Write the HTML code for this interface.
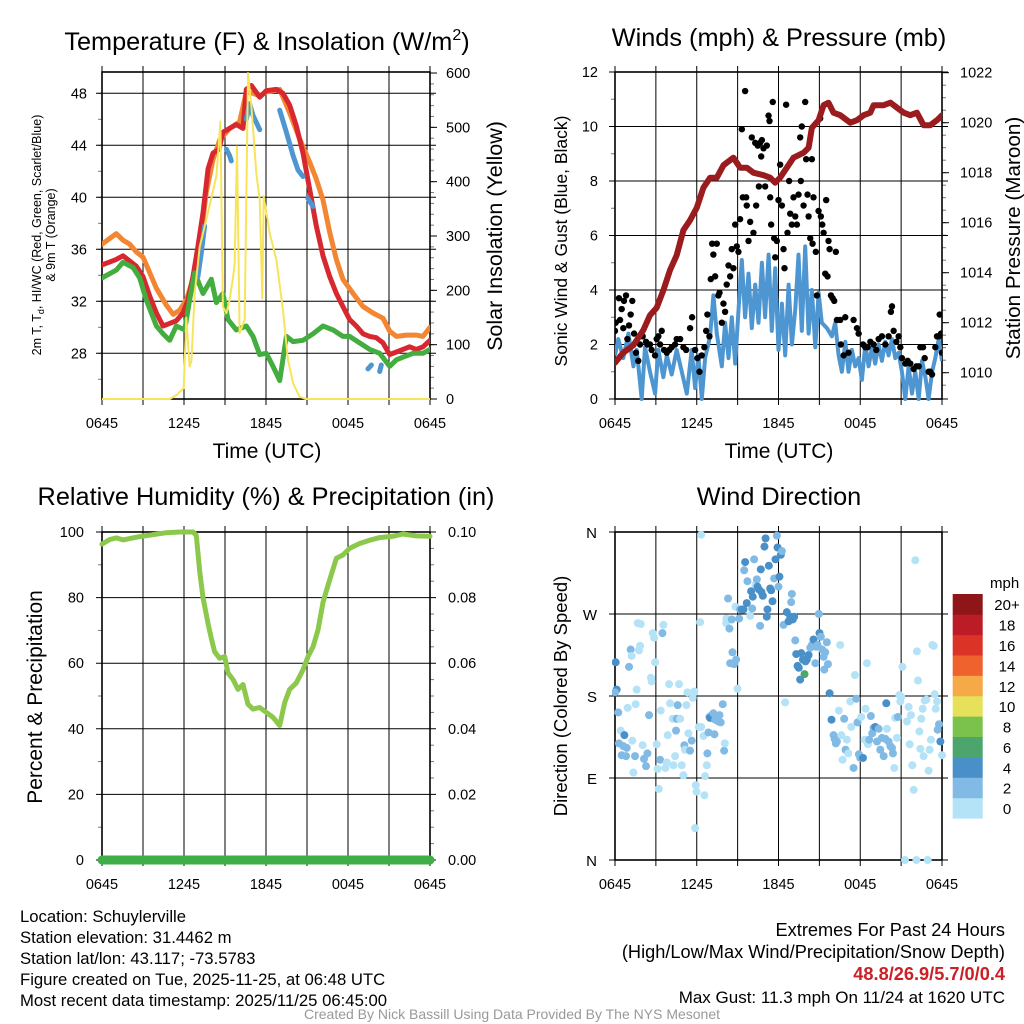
<!DOCTYPE html>
<html><head><meta charset="utf-8"><style>
html,body{margin:0;padding:0;background:#fff;}
svg{display:block;font-family:"Liberation Sans",sans-serif;}
</style></head><body>
<svg id="chart" width="1024" height="1024" viewBox="0 0 1024 1024" xmlns="http://www.w3.org/2000/svg">
<defs>
<clipPath id="c1"><rect x="102" y="70" width="328" height="331"/></clipPath>
<clipPath id="c2"><rect x="615" y="70" width="327" height="331"/></clipPath>
<clipPath id="c3"><rect x="96" y="528" width="340" height="338"/></clipPath>
<clipPath id="c4"><rect x="612" y="528" width="334" height="336"/></clipPath>
</defs>
<g id="g1"></g>
<g id="g2"></g>
<g id="g3"></g>
<g id="g4"></g>
<g font-size="25.3" text-anchor="middle" fill="#000">
<text x="267" y="50">Temperature (F) &amp; Insolation (W/m<tspan font-size="16" dy="-10">2</tspan><tspan dy="10">)</tspan></text>
<text x="779" y="46">Winds (mph) &amp; Pressure (mb)</text>
<text x="266" y="505">Relative Humidity (%) &amp; Precipitation (in)</text>
<text x="779" y="505">Wind Direction</text>
</g>
<g fill="#000" text-anchor="middle">
<text x="267" y="458" font-size="21">Time (UTC)</text>
<text x="779" y="458" font-size="21">Time (UTC)</text>
<text transform="translate(41,235) rotate(-90)" font-size="12.5">2m T, T<tspan font-size="9" dy="3">d</tspan><tspan dy="-3">, HI/WC (Red, Green, Scarlet/Blue)</tspan></text>
<text transform="translate(55,235) rotate(-90)" font-size="12.5">&amp; 9m T (Orange)</text>
<text transform="translate(502,236) rotate(-90)" font-size="21.5">Solar Insolation (Yellow)</text>
<text transform="translate(567,241) rotate(-90)" font-size="17.5">Sonic Wind &amp; Gust (Blue, Black)</text>
<text transform="translate(1020,238) rotate(-90)" font-size="20.7">Station Pressure (Maroon)</text>
<text transform="translate(42,697) rotate(-90)" font-size="21">Percent &amp; Precipitation</text>
<text transform="translate(567,696) rotate(-90)" font-size="18.5">Direction (Colored By Speed)</text>
</g>
<g font-size="16.7" fill="#000">
<text x="20" y="922">Location: Schuylerville</text>
<text x="20" y="943">Station elevation: 31.4462 m</text>
<text x="20" y="964">Station lat/lon: 43.117; -73.5783</text>
<text x="20" y="985">Figure created on Tue, 2025-11-25, at 06:48 UTC</text>
<text x="20" y="1006">Most recent data timestamp: 2025/11/25 06:45:00</text>
</g>
<g font-size="18.2" fill="#000" text-anchor="end">
<text x="1005" y="936">Extremes For Past 24 Hours</text>
<text x="1005" y="958">(High/Low/Max Wind/Precipitation/Snow Depth)</text>
<text x="1005" y="980" fill="#cc2027" font-weight="bold">48.8/26.9/5.7/0/0.4</text>
<text x="1005" y="1003" font-size="17">Max Gust: 11.3 mph On 11/24 at 1620 UTC</text>
</g>
<text x="512" y="1019" font-size="14" fill="#999" text-anchor="middle">Created By Nick Bassill Using Data Provided By The NYS Mesonet</text>
</svg>
<script>
// ===== Temperature panel data =====
const redHours=[0,1,1.54,2.02,2.51,3,3.49,3.98,4.46,4.95,5.44,5.93,6.29,6.66,7.02,7.39,7.76,8.12,8.56,8.85,9.34,9.83,10.32,10.56,10.93,11.54,12.02,12.76,13.24,13.73,14.22,14.71,15.2,15.68,16.17,16.66,17.15,17.63,18.12,18.61,19.1,19.59,20.07,20.56,21.05,21.54,22.02,22.51,23,23.49,24];
const redTemp=[34.8,35.2,35.5,35.1,34.7,33.9,32.4,31.1,30.1,30.3,30.5,31.1,32.1,33.9,36.2,38.8,42.2,43.4,43.7,45,45.3,45.6,45.3,48.3,48.6,47.7,48.2,48.3,48,47.1,45.5,43.4,40.6,37.8,35.5,33.9,32.6,31.6,30.6,30.1,29.5,29.3,29.2,28.8,27.9,28.1,28.3,28.5,28.3,28.5,29];
const orangeHours=[0,1.05,1.54,2.02,2.51,3,3.49,3.98,4.71,5.2,5.68,6.17,6.66,7.15,7.63,8.12,8.61,9.34,10.07,10.56,11.05,11.54,12.02,13,13.73,14.46,15.2,15.68,16.17,16.66,17.15,17.63,18.37,19.1,19.83,20.56,21.05,21.54,22.27,23,23.49,24];
const orangeTemp=[36.4,37.2,36.7,36.4,35.8,35.4,34.2,33,31.7,31,31.3,32.1,33.7,36.2,40.4,42.9,44.4,45.3,45.8,48.1,48,47.8,48.1,48.3,46.5,44.5,42.7,41.4,39.8,37.3,35.2,33.7,32.6,31.6,31.1,30.7,29.7,29.3,29.4,29.4,29.3,30];
const greenHours=[0,1.05,1.54,2.27,2.76,3.24,3.98,4.46,4.95,5.44,6.05,6.41,6.78,7.39,8,8.37,8.85,9.22,9.83,10.56,11.05,11.54,12.02,12.51,13,13.49,13.98,14.71,15.44,16.17,16.9,17.63,18.12,18.85,19.59,20.32,21.05,21.54,22.02,22.76,23.49,24];
const greenTemp=[33.8,34.4,35,34.6,33.8,32.1,30.1,29.5,29,30.1,29.8,32.1,34.2,32.6,33.7,31.9,32.6,30.6,29.8,30.1,29.3,27.9,28,27,25.9,29.3,28.9,29,29.5,30.1,29.8,29.3,29.3,28.8,28.3,28,27,27.5,27.7,28,28,28.3];
const hiHours=[7.02,7.27,7.51,null,9.1,9.34,9.46,null,10.56,10.8,11.05,11.54,null,13,13.49,13.98,14.34,14.71,null,15.07,15.44,null,19.46,19.71,null,20.32,20.44];
const hiTemp=[33.9,35.8,37.8,null,43.7,43.2,42.8,null,46,47.2,46.3,45.2,null,46.7,45,43.2,42.1,41.6,null,39.9,39.3,null,26.8,27.1,null,26.6,27.1];
const solarHours=[0,4.95,5.44,5.98,6.17,6.41,6.54,6.78,7.15,7.63,8.37,8.66,8.85,9.1,9.34,9.59,9.71,9.88,10.07,10.44,10.68,10.93,11.29,11.54,11.73,11.83,12.27,12.76,13.24,13.61,13.98,14.46,14.95,24];
const solarW=[0,0,7,20,150,60,70,195,280,330,410,511,170,158,182,225,250,465,121,146,600,539,416,367,185,373,305,256,164,72,29,4,0,0];
const tempTicks=[28,32,36,40,44,48];
const solarTicks=[0,100,200,300,400,500,600];
const timeLabels=["0645","1245","1845","0045","0645"];
const timeLabelHours=[0,6,12,18,24];
// ===== Winds panel data =====
const presHours=[0,0.61,1.35,2.08,2.57,3.06,3.55,4.04,4.53,5.02,5.51,6,6.49,6.98,7.47,7.96,8.69,9.18,9.67,10.16,10.9,11.39,11.76,12.12,12.61,13.1,13.84,14.21,14.45,14.94,15.31,15.67,16.04,16.53,17.27,17.76,18.25,18.74,18.98,19.72,20.21,20.7,21.19,21.67,22.16,22.65,23.14,23.63,24];
const presMb=[1010.4,1010.8,1011.1,1011.7,1012.3,1012.6,1013.3,1014.1,1014.7,1015.7,1016.1,1016.6,1017.4,1017.8,1017.8,1018.3,1018.6,1018.2,1018.2,1018,1017.9,1017.8,1017.6,1017.8,1018.2,1018.6,1018.8,1019,1019.8,1020.1,1020.7,1020.8,1020.4,1020.3,1020,1020.1,1020.3,1020.4,1020.7,1020.7,1020.8,1020.6,1020.4,1020.3,1020.4,1019.9,1019.9,1020.1,1020.3];
const windHours=[0,.24,.61,.98,1.35,1.59,1.96,2.2,2.57,2.94,3.18,3.55,3.8,4.16,4.53,4.9,5.27,5.63,5.88,6.12,6.37,6.61,6.98,7.22,7.47,7.84,8.08,8.33,8.57,8.82,9.06,9.31,9.55,9.8,10.04,10.29,10.53,10.78,11.02,11.27,11.51,11.76,12,12.25,12.49,12.74,12.98,13.23,13.47,13.71,13.96,14.21,14.45,14.7,14.94,15.18,15.55,15.92,16.16,16.41,16.65,16.9,17.14,17.39,17.63,17.88,18.12,18.37,18.61,18.86,19.1,19.35,19.59,19.84,20.08,20.33,20.57,20.82,21.06,21.31,21.55,21.8,22.04,22.29,22.53,22.78,23.02,23.27,23.51,23.76,24];
const windMph=[1.6,2.2,1.5,2.4,1.2,1.8,0,1.9,1,0.2,1.8,0.8,1.6,0.9,1.8,1,0.2,1.8,0.4,1.6,0,1.5,2.3,3.8,2.4,1.2,2.8,1.5,3,1.3,3.2,5.1,3,4.6,2.6,4.2,2.8,5,3,5.3,2.5,4.8,1.8,3.5,1.6,4.2,2,3.3,5.3,2.5,5.6,2.4,4,1.9,3.9,2.8,2.6,2.3,2.8,1.6,1,2.1,1,1.8,1.2,1.5,0.7,2,1.2,1.9,1.3,2,1.4,2.1,1.6,2.2,1.5,1.7,1,0,1.2,0.2,1,0,1.4,0.8,0,1,1.5,2.2,1.4];
const gustHours=[0,.05,.29,.37,.49,.61,.66,.81,.91,1.03,1.15,1.27,1.4,1.54,1.71,1.84,2.03,2.28,2.38,2.57,2.69,2.94,3.06,3.18,3.31,3.43,3.6,3.8,3.99,4.16,4.41,4.53,4.78,5.02,5.22,5.51,5.66,5.88,6.05,6.2,6.37,6.56,6.69,6.78,6.93,7.03,7.13,7.22,7.35,7.47,7.59,7.67,7.84,7.96,8.08,8.2,8.33,8.45,8.57,8.69,8.82,8.94,9.06,9.18,9.31,9.38,9.55,9.63,9.67,9.8,9.92,10.04,10.16,10.29,10.36,10.48,10.56,10.65,10.73,10.78,10.9,11.02,11.14,11.27,11.34,11.39,11.46,11.58,11.68,11.76,11.88,12,12.12,12.25,12.37,12.44,12.56,12.66,12.78,12.86,12.98,13.1,13.23,13.35,13.47,13.59,13.64,13.71,13.84,13.96,14.03,14.13,14.21,14.33,14.45,14.5,14.57,14.74,14.82,14.94,15.06,15.11,15.21,15.31,15.43,15.5,15.6,15.67,15.75,15.85,15.97,16.09,16.21,16.29,16.53,16.58,16.78,16.9,17.14,17.51,17.76,17.88,18.2,18.37,18.54,18.74,18.98,19.18,19.35,19.59,19.84,20.08,20.25,20.33,20.45,20.65,20.82,20.94,21.06,21.31,21.48,21.67,21.92,22.12,22.29,22.41,22.61,22.73,23.02,23.14,23.27,23.51,23.63,23.76,23.83,23.93,24];
const gustMph=[2.5,2.8,3.7,2.9,3.3,2.6,3.6,3.8,2.2,2.7,3.1,3.6,2.4,1.7,1.4,2,2.3,2.1,2,2,1.8,1.6,2.2,2.3,2,2.5,1.8,1.7,1.8,1.9,2,2.2,2.2,1.9,1.8,2.6,3,1.8,1.5,1,1.6,1.9,2.5,3.1,2.3,4.4,5.7,5.3,4.5,5.7,3.8,3.9,2.8,3.5,3.2,4.2,4.9,4.5,5.5,4.8,6.4,5.6,5.4,6.6,9.9,7.4,11.3,7.4,7.1,5.8,6.5,9.6,6.1,9.4,7.1,9.3,7.8,9.4,8.9,9.5,9.2,7.8,9.3,10.4,10.2,7.4,6.4,10.9,5.9,5.2,5.8,7.3,8.6,7.1,5.5,4.8,10.8,6.1,8,6.8,6.4,7.4,6.7,6.4,7.5,9.6,8,10,7.1,10.9,8.8,7.5,6.7,5.9,8.8,5.7,7.4,5.4,3.8,6.9,10.3,6.7,6.4,6.1,4.6,7.3,4.5,5.8,5.5,3.8,3.7,3.6,5.4,2.9,2.9,2,1.6,3,1.7,2.9,2.6,2.4,2,1.9,1.9,2.1,2,1.8,2.2,2.3,2,2.3,3.2,3.4,2.5,2.1,2.3,1.9,1.5,1.3,1.4,1.3,1.1,1.2,1.2,1.9,1.9,1.5,1,1,0.9,1.9,2.3,2.3,3.1,2.4,1.7];
const windTicks=[0,2,4,6,8,10,12];
const presTicks=[1010,1012,1014,1016,1018,1020,1022];
// ===== Humidity panel data =====
const rhHours=[0,.56,1.05,1.54,2.02,2.76,3.73,4.71,5.68,6.66,6.9,7.15,7.39,7.76,8,8.24,8.61,8.98,9.22,9.59,9.95,10.32,10.68,11.05,11.54,12.02,12.51,13,13.37,13.73,14.22,14.71,15.07,15.44,15.8,16.17,16.41,16.78,17.15,17.63,18.12,18.85,19.59,20.32,21.29,22.02,23,24];
const rhPct=[96.3,97.7,98.2,97.6,98,98.6,99.2,99.8,100,100,99,88,80,72,67.6,63.5,61.5,62,57,55,52,53.5,47.5,46,46.5,45,43.5,41,48,52,54,58,62,65,70,78.5,82,87,92,93,95,96.5,97.5,98.3,98.7,99.4,98.8,98.7];
const precipHours=[0,24];
const precipIn=[0,0];
const rhTicks=[0,20,40,60,80,100];
const precipTicks=["0.00","0.02","0.04","0.06","0.08","0.10"];
// ===== Wind direction data =====
const dirHours=[.05,.12,0,.24,.42,.69,.29,.61,.86,.49,.81,1.27,.93,1.52,1.59,1.15,1.22,1.03,1.84,1.76,1.67,1.89,2.5,2.03,2.13,2.38,2.28,1.47,1.35,2.64,2.69,2.94,2.77,2.87,3.48,3.55,3.06,3.13,3.31,3.21,3.36,3.7,3.8,3.87,3.97,4.04,4.24,4.29,4.41,4.48,4.53,4.6,4.7,4.78,4.9,5.02,5.09,5.14,5.24,5.31,5.39,5.51,5.63,5.71,5.76,5.83,5.93,5.98,5.88,6.15,6.32,6.25,6.32,6.49,6.56,6.61,6.74,6.78,6.86,6.93,7.1,6.98,7.22,7.35,7.47,7.59,7.67,7.76,7.3,7.91,8.01,8.06,8.18,8.16,8.4,8.3,8.57,8.62,8.45,8.74,8.89,8.84,8.99,9.11,9.18,9.31,9.43,9.55,9.48,9.67,9.72,9.92,9.99,10.07,10.11,10.21,10.31,10.41,10.46,10.56,10.65,10.7,10.75,10.85,10.97,11.05,11.14,11.19,11.29,11.39,11.46,11.56,11.68,11.78,11.88,11.93,12,12.07,12.17,12.25,12.37,12.49,12.61,12.74,12.86,12.93,12.98,12.93,13.05,13.15,13.23,13.3,13.4,13.49,13.59,13.67,13.79,13.91,13.98,14.08,14.21,14.33,14.45,14.57,14.7,14.77,14.87,14.96,15.01,15.11,15.21,15.31,15.36,15.43,15.55,15.63,15.75,15.89,16.04,16.12,16.21,16.29,16.43,16.53,16.61,16.7,16.82,16.92,17.02,17.12,17.27,17.34,17.51,17.61,17.71,17.8,17.9,18,18.07,18.2,18.32,18.39,18.49,18.56,18.66,18.78,18.88,18.98,19.1,19.23,19.35,19.47,19.59,19.72,19.84,19.91,19.96,20.08,20.21,20.33,20.4,20.5,20.57,20.7,20.77,20.87,20.94,21.01,21.09,21.28,21.43,21.55,21.63,21.72,21.82,21.92,22.04,22.12,22.16,22.24,22.34,22.41,22.48,22.58,22.65,22.73,22.85,22.95,23.02,23.09,23.19,23.29,23.39,23.46,23.54,23.63,23.68,23.78,23.88,24];
const dirDeg=[217,187,184,162,142,137,128,125,123,115,114,131,167,171,187,231,224,212,235,230,260,259,159,126,111,117,103,114,96,200,196,217,249,244,249,258,127,100,110,78,164,101,107,137,193,172,155,104,114,142,155,170,193,155,104,93,126,121,170,184,139,120,131,178,183,185,82,75,35,146,146,261,357,136,71,92,104,117,140,157,159,156,161,154,157,152,159,151,138,171,120,128,265,260,254,287,264,228,216,215,220,278,188,265,275,275,275,327,318,282,306,268,295,276,289,330,302,308,300,297,257,319,294,290,344,353,267,275,323,298,296,284,309,330,356,343,300,311,335,339,258,173,272,262,267,264,292,283,264,267,241,226,213,211,198,227,220,204,218,220,225,233,236,242,216,234,236,270,249,245,231,223,209,228,239,215,183,154,137,133,128,130,164,236,137,110,155,121,132,117,174,146,101,203,177,151,116,112,157,112,132,166,216,127,132,158,139,145,146,130,144,121,134,114,133,172,144,130,125,123,117,101,156,134,157,181,174,179,212,0,152,168,127,159,104,77,329,0,229,197,141,122,155,166,114,175,176,0,98,121,132,236,235,182,166,174,143,149,130,115];
const dirSpeed=[4,4,2,2,0,4,2,2,2,2,2,0,0,0,0,2,0,2,0,0,0,0,2,0,2,2,2,2,0,0,0,0,0,0,2,0,0,0,2,0,0,0,0,0,0,0,0,0,0,2,2,2,0,0,0,0,2,0,0,0,0,2,2,0,0,0,0,0,0,0,0,0,0,0,0,0,0,2,2,2,2,4,2,2,2,2,2,2,2,2,2,0,0,0,2,2,2,2,2,2,2,0,0,2,2,4,4,4,2,4,2,0,4,2,4,2,0,2,4,4,2,4,4,4,4,4,4,4,4,4,4,4,2,4,2,4,2,4,4,2,2,0,4,4,4,4,2,2,4,4,2,4,4,4,4,4,4,6,4,4,4,2,2,4,2,2,2,2,4,2,2,2,2,2,2,2,4,4,2,2,2,2,0,0,0,0,2,2,0,0,0,0,2,0,2,2,2,2,0,4,0,0,0,0,2,2,2,2,4,2,2,2,2,2,2,4,0,2,2,2,2,0,0,0,2,0,0,0,0,0,0,0,0,0,0,0,0,0,0,0,0,0,0,0,0,0,0,0,0,0,0,0,0,0,0,0,2,2,4,0];
const dirTicks=[0,90,180,270,360];
const dirTickLabels=["N","E","S","W","N"];
const speedBins=[0,2,4,6,8,10,12,14,16,18,20];
const speedLabels=["0","2","4","6","8","10","12","14","16","18","20+"];
const speedColors=["#b4e2f7","#80bae5","#4a90c8","#4ba56c","#7bc24c","#e6e05a","#f5a947","#ef612d","#dc3327","#bb1c26","#8e1619"];

const NS="http://www.w3.org/2000/svg";
function mk(tag,attrs,parent){const e=document.createElementNS(NS,tag);for(const k in attrs)e.setAttribute(k,attrs[k]);parent.appendChild(e);return e;}
function txt(s,x,y,size,anchor,parent){const t=mk('text',{x:x,y:y,'font-size':size,'text-anchor':anchor,fill:'#000'},parent);t.textContent=s;return t;}
function linePath(xs,ys,fx,fy){let d='',pen=false;for(let i=0;i<xs.length;i++){if(xs[i]===null||ys[i]===null){pen=false;continue;}d+=(pen?'L':'M')+fx(xs[i]).toFixed(1)+','+fy(ys[i]).toFixed(1);pen=true;}return d;}

function frame(g,x0,x1,y0,y1,hTicksY,name){
  for(let i=0;i<=8;i++){const x=x0+(x1-x0)*i/8;
    const l=mk('line',{x1:x,x2:x,y1:y0-6,y2:y1+6,stroke:'#000','stroke-width':1},g);
    
    }
  hTicksY.forEach(y=>{const l=mk('line',{x1:x0-6,x2:x1+6,y1:y,y2:y,stroke:'#000','stroke-width':1},g);
    
    });
  const r=mk('rect',{x:x0,y:y0,width:x1-x0,height:y1-y0,fill:'none',stroke:'#000','stroke-width':1.6},g);
  
  
}
function xLabels(g,x0,x1,y){timeLabels.forEach((s,i)=>{const t=txt(s,x0+(x1-x0)*timeLabelHours[i]/24,y,14.5,'middle',g);
  
  });}
function minorTicks(g,x,ys,dir){ys.forEach(y=>{const l=mk('line',{x1:x,x2:x+dir*4,y1:y,y2:y,stroke:'#777','stroke-width':1},g);
  
  });}

// ===== Panel 1 =====
(function(){
  const g=document.getElementById('g1');
  const x0=102,x1=430,y0=72,y1=399;
  const fx=h=>x0+(x1-x0)*h/24, fy=T=>353.3-(T-28)*13, fw=w=>399-w*0.5433;
  const mn=[];for(let T=26;T<=50;T+=2)mn.push(fy(T));minorTicks(g,x0,mn.filter(y=>y>y0&&y<y1),-1);
  const mr=[];for(let w=20;w<600;w+=20)mr.push(fw(w));minorTicks(g,x1,mr,1);
  frame(g,x0,x1,y0,y1,tempTicks.map(fy),'temp');
  solarTicks.forEach(w=>{const l=mk('line',{x1:x1,x2:x1+7,y1:fw(w),y2:fw(w),stroke:'#000'},g);
    
    
    const t=txt(String(w),x1+16,fw(w)+5,14.5,'start',g);
    
    });
  tempTicks.forEach(T=>{const t=txt(String(T),87,fy(T)+5,14.5,'end',g);
    
    });
  xLabels(g,x0,x1,428);
  const c=mk('g',{'clip-path':'url(#c1)'},g);
  const series=[[orangeHours,orangeTemp,'#f28632','orange-9m-temp-line',fy,5],[redHours,redTemp,'#d7282f','red-2m-temp-line',fy,5],[greenHours,greenTemp,'#44ad3f','green-dewpoint-line',fy,5],[hiHours,hiTemp,'#4e96d1','blue-heat-index-line',fy,5],[solarHours,solarW,'#f7e45a','yellow-solar-line',fw,2]];
  series.forEach(s=>{const p=mk('path',{d:linePath(s[0],s[1],fx,s[4]),fill:'none',stroke:s[2],'stroke-width':s[5],'stroke-linejoin':'round','stroke-linecap':'round'},c);
    
    });
})();

// ===== Panel 2 =====
(function(){
  const g=document.getElementById('g2');
  const x0=615,x1=942,y0=72,y1=399;
  const fx=h=>x0+(x1-x0)*h/24, fy=v=>399-v*27.25, fp=p=>72.7+(1022-p)*25;
  const mn=[];for(let v=1;v<12;v+=2)mn.push(fy(v));minorTicks(g,x0,mn,-1);
  const mr=[];for(let p=1009.5;p<1022;p+=0.5)mr.push(fp(p));minorTicks(g,x1,mr.filter(y=>y<y1),1);
  frame(g,x0,x1,y0,y1,windTicks.map(fy),'wind');
  windTicks.forEach(v=>{const t=txt(String(v),598,fy(v)+5,14.5,'end',g);
    
    });
  presTicks.forEach(p=>{const l=mk('line',{x1:x1,x2:x1+7,y1:fp(p),y2:fp(p),stroke:'#000'},g);
    
    
    const t=txt(String(p),960,fp(p)+5,14.5,'start',g);
    
    });
  xLabels(g,x0,x1,428);
  const c=mk('g',{'clip-path':'url(#c2)'},g);
  const w=mk('path',{d:linePath(windHours,windMph,fx,fy),fill:'none',stroke:'#4e96d1','stroke-width':4,'stroke-linejoin':'round'},c);
  
  
  gustHours.forEach((h,i)=>{const d=mk('circle',{cx:fx(h),cy:fy(gustMph[i]),r:3.2,fill:'#000'},c);
    
    });
  const p=mk('path',{d:linePath(presHours,presMb,fx,fp),fill:'none',stroke:'#9b1c1f','stroke-width':6,'stroke-linejoin':'round','stroke-linecap':'round'},c);
  
  
})();

// ===== Panel 3 =====
(function(){
  const g=document.getElementById('g3');
  const x0=102,x1=430,y0=532,y1=860;
  const fx=h=>x0+(x1-x0)*h/24, fy=v=>860-v*3.28, fp=v=>860-v*3280;
  const mn=[];for(let v=10;v<100;v+=20)mn.push(fy(v));minorTicks(g,x0,mn,-1);
  const mr=[];for(let v=5;v<100;v+=5)if(v%20)mr.push(fy(v));minorTicks(g,x1,mr,1);
  frame(g,x0,x1,y0,y1,rhTicks.map(fy),'rh');
  rhTicks.forEach((v,i)=>{const t=txt(String(v),84,fy(v)+5,14.5,'end',g);
    
    
    const t2=txt(precipTicks[i],448,fy(v)+5,14.5,'start',g);
    
    });
  xLabels(g,x0,x1,889);
  const c=mk('g',{'clip-path':'url(#c3)'},g);
  const p=mk('path',{d:linePath(precipHours,precipIn,fx,fp),fill:'none',stroke:'#3fae49','stroke-width':9,'stroke-linecap':'round'},c);
  
  
  const r=mk('path',{d:linePath(rhHours,rhPct,fx,fy),fill:'none',stroke:'#8cc84b','stroke-width':5,'stroke-linejoin':'round','stroke-linecap':'round'},c);
  
  
})();

// ===== Panel 4 =====
(function(){
  const g=document.getElementById('g4');
  const x0=615,x1=942,y0=532,y1=860;
  const fx=h=>x0+(x1-x0)*h/24, fy=d=>860-d*(328/360);
  frame(g,x0,x1,y0,y1,dirTicks.map(fy),'dir');
  dirTicks.forEach((d,i)=>{const t=txt(dirTickLabels[i],597,fy(d)+6,15,'end',g);
    
    });
  xLabels(g,x0,x1,889);
  const c=mk('g',{'clip-path':'url(#c4)'},g);
  dirHours.forEach((h,i)=>{const s=dirSpeed[i];let k=0;for(let j=0;j<speedBins.length;j++)if(s>=speedBins[j])k=j;
    const d=mk('circle',{cx:fx(h),cy:fy(dirDeg[i]),r:4,fill:speedColors[k]},c);
    
    });
  const lg=mk('g',{},g);
  
  
  const t=txt('mph',990,588,15,'start',lg);
  
  
  const bh=(818.3-594)/speedBins.length;
  speedBins.forEach((b,i)=>{const y=818.3-(i+1)*bh;
    const r=mk('rect',{x:952.7,y:y,width:30,height:bh+0.3,fill:speedColors[i]},lg);
    
    
    const l=txt(speedLabels[i],1007,y+bh/2+6,15,'middle',lg);
    
    });
})();
</script>
</body></html>
